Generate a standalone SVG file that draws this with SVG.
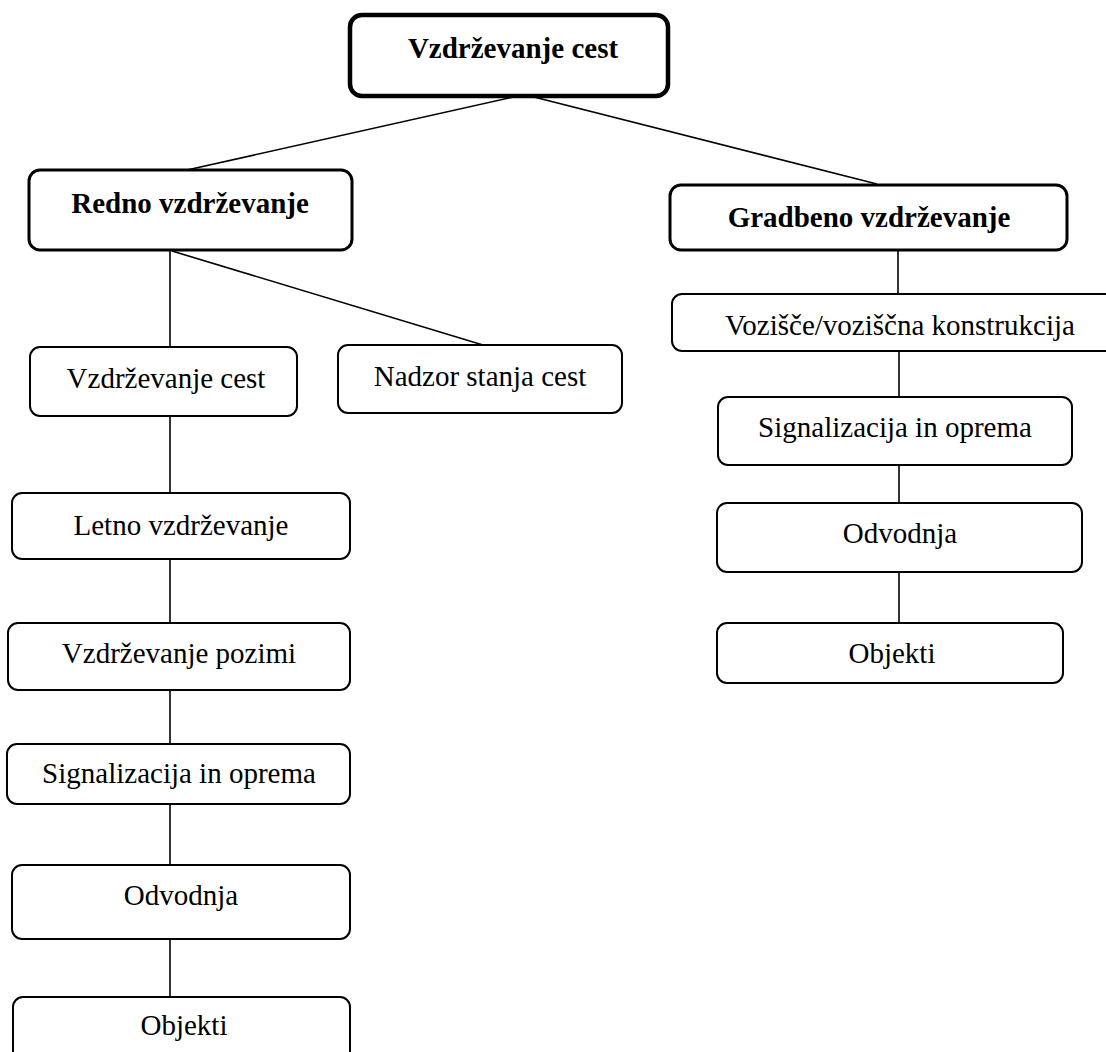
<svg xmlns="http://www.w3.org/2000/svg" width="1106" height="1052" viewBox="0 0 1106 1052">
  <style>
    .box { fill: #ffffff; stroke: #000000; stroke-width: 2; }
    .box-main { fill: #ffffff; stroke: #000000; stroke-width: 3; }
    .box-root { fill: #ffffff; stroke: #000000; stroke-width: 4.5; }
    .lbl { font-family: "Liberation Serif", "Times New Roman", serif; font-size: 29px; fill: #000000; text-anchor: middle; }
    .lbl-b { font-family: "Liberation Serif", "Times New Roman", serif; font-size: 29px; font-weight: bold; fill: #000000; text-anchor: middle; }
    .conn { stroke: #000000; stroke-width: 1.6; fill: none; }
  </style>
  <rect width="1106" height="1052" fill="#ffffff"/>

  <!-- connectors -->
  <g id="connectors">
    <line class="conn" x1="518" y1="96" x2="187" y2="170"/>
    <line class="conn" x1="530" y1="96" x2="877" y2="184"/>
    <line class="conn" x1="170" y1="251" x2="170" y2="347"/>
    <line class="conn" x1="172" y1="251" x2="483" y2="345"/>
    <line class="conn" x1="170" y1="416" x2="170" y2="493"/>
    <line class="conn" x1="170" y1="559" x2="170" y2="623"/>
    <line class="conn" x1="170" y1="690" x2="170" y2="744"/>
    <line class="conn" x1="170" y1="804" x2="170" y2="865"/>
    <line class="conn" x1="170" y1="939" x2="170" y2="997"/>
    <line class="conn" x1="898" y1="250" x2="898" y2="294"/>
    <line class="conn" x1="899" y1="351" x2="899" y2="397"/>
    <line class="conn" x1="899" y1="465" x2="899" y2="503"/>
    <line class="conn" x1="899" y1="572" x2="899" y2="623"/>
  </g>

  <!-- root -->
  <g id="root">
    <rect class="box-root" x="350" y="15" width="318" height="81" rx="12"/>
    <text class="lbl-b" x="513" y="58">Vzdrževanje cest</text>
  </g>

  <!-- main branches -->
  <g id="redno">
    <rect class="box-main" x="29" y="170" width="323" height="80" rx="11"/>
    <text class="lbl-b" x="190" y="213">Redno vzdrževanje</text>
  </g>
  <g id="gradbeno">
    <rect class="box-main" x="670" y="185" width="397" height="65" rx="11"/>
    <text class="lbl-b" x="869" y="227">Gradbeno vzdrževanje</text>
  </g>

  <!-- left column -->
  <g id="vzdrzevanje-cest">
    <rect class="box" x="30" y="347" width="267" height="69" rx="10"/>
    <text class="lbl" x="166" y="388">Vzdrževanje cest</text>
  </g>
  <g id="nadzor">
    <rect class="box" x="338" y="345" width="284" height="68" rx="10"/>
    <text class="lbl" x="480" y="386">Nadzor stanja cest</text>
  </g>
  <g id="letno">
    <rect class="box" x="12" y="493" width="338" height="66" rx="10"/>
    <text class="lbl" x="181" y="535">Letno vzdrževanje</text>
  </g>
  <g id="pozimi">
    <rect class="box" x="8" y="623" width="342" height="67" rx="10"/>
    <text class="lbl" x="179" y="663">Vzdrževanje pozimi</text>
  </g>
  <g id="signalizacija-l">
    <rect class="box" x="7" y="744" width="343" height="60" rx="10"/>
    <text class="lbl" x="179" y="783">Signalizacija in oprema</text>
  </g>
  <g id="odvodnja-l">
    <rect class="box" x="12" y="865" width="338" height="74" rx="10"/>
    <text class="lbl" x="181" y="905">Odvodnja</text>
  </g>
  <g id="objekti-l">
    <rect class="box" x="13" y="997" width="337" height="70" rx="10"/>
    <text class="lbl" x="184" y="1035">Objekti</text>
  </g>

  <!-- right column -->
  <g id="vozisce">
    <rect class="box" x="672" y="294" width="456" height="57" rx="10"/>
    <text class="lbl" x="900" y="335">Vozišče/voziščna konstrukcija</text>
  </g>
  <g id="signalizacija-r">
    <rect class="box" x="718" y="397" width="354" height="68" rx="10"/>
    <text class="lbl" x="895" y="437">Signalizacija in oprema</text>
  </g>
  <g id="odvodnja-r">
    <rect class="box" x="717" y="503" width="365" height="69" rx="10"/>
    <text class="lbl" x="900" y="543">Odvodnja</text>
  </g>
  <g id="objekti-r">
    <rect class="box" x="717" y="623" width="346" height="60" rx="10"/>
    <text class="lbl" x="892" y="663">Objekti</text>
  </g>
</svg>
